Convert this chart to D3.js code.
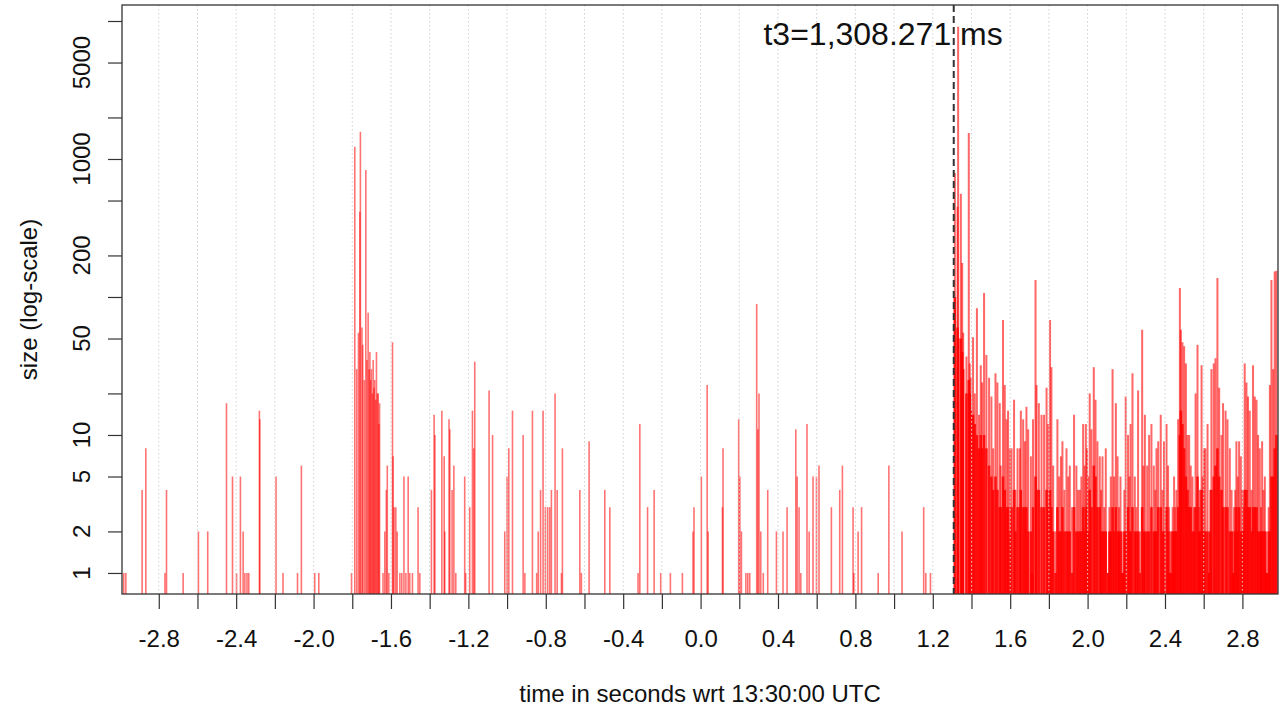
<!DOCTYPE html>
<html lang="en">
<head>
  <meta charset="utf-8">
  <title>size vs time (log-scale)</title>
  <style>
    body { margin: 0; background: #fff; }
    svg { display: block; font-family: "Liberation Sans", Arial, Helvetica, sans-serif; }
    .grid line { stroke: #cfcfcf; stroke-dasharray: 1.5,2.5; stroke-width: 1; }
    .axis text { font-size: 24px; fill: #111; }
    .axis line { stroke: #333; stroke-width: 1.2; }
  </style>
  <script src="https://cdn.jsdelivr.net/npm/d3@7"></script>
</head>
<body>
<script>
  // sparse events before t3: time (s) and size
  let sparseT = [-2.981,-2.970,-2.886,-2.867,-2.768,-2.760,-2.674,-2.595,-2.547,-2.450,-2.419,-2.398,-2.378,-2.364,-2.355,-2.344,-2.335,
    -2.280,-2.278,-2.194,-2.158,-2.083,-2.063,-1.994,-1.973,-1.804,
    -1.787,-1.777,-1.768,-1.761,-1.758,-1.750,-1.746,-1.738,-1.730,-1.724,-1.718,-1.713,-1.709,-1.705,-1.701,-1.696,-1.692,-1.688,-1.684,-1.679,-1.675,-1.670,-1.666,-1.662,-1.659,
    -1.641,-1.632,-1.624,-1.619,-1.611,-1.592,-1.589,-1.584,-1.575,-1.568,-1.554,-1.544,-1.533,-1.523,-1.511,-1.503,-1.489,-1.460,-1.451,
    -1.391,-1.377,-1.373,-1.337,-1.325,-1.322,-1.300,-1.296,-1.284,-1.275,-1.265,-1.219,-1.214,-1.193,-1.179,-1.172,-1.167,
    -1.093,-1.075,-1.012,-1.000,-0.991,-0.972,-0.917,-0.908,-0.869,-0.847,-0.839,-0.827,-0.814,-0.802,-0.790,-0.779,-0.771,-0.752,-0.741,-0.719,-0.714,
    -0.624,-0.616,-0.576,-0.495,-0.469,-0.323,-0.314,-0.274,-0.240,-0.206,-0.156,-0.094,-0.039,-0.034,0.004,0.034,0.039,0.113,0.116,
    0.197,0.203,0.211,0.234,0.244,0.254,0.290,0.296,0.302,0.311,0.324,0.347,0.392,0.426,0.447,0.492,0.499,0.509,0.518,0.550,0.561,0.581,0.599,0.612,
    0.676,0.719,0.733,0.788,0.792,0.814,0.832,0.918,0.973,1.041,1.153,1.164,1.188]
  let sparseV = [1,1,4,8,1,4,1,2,2,17,5,1,5,2,1,1,1,
    15,13,5,1,1,6,1,1,1,
    1228,30,55,415,1578,60,45,25,833,35,77,30,40,25,30,20,35,22,25,18,40,20,20,12,17,
    1,2,4,6,1,47,7,3,3,2,1,1,5,1,5,1,1,3,1,
    4,14,10,15,7,2,13,11,4,6,1,5,1,3,15,8,34,
    21,10,2,5,8,15,10,1,15,1,2,4,15,3,3,3,4,20,4,1,8,
    4,1,9,4,3,1,12,3,4,1,1,1,2,3,5,23,2,3,8,
    13,5,2,1,1,1,89,11,20,2,1,4,2,2,3,11,5,3,1,12,2,5,5,6,
    3,4,6,3,1,2,3,1,6,2,3,1,1]

  // dense events after t3: time, peak size, solid base size
  let denseT = [1.314,1.328,1.331,1.345,1.352,1.357,1.374,1.386,1.391,1.396,1.408,1.417,1.428,1.439,1.448,1.455,1.465,1.477,1.491,1.503,
    1.512,1.524,1.534,1.546,1.551,1.563,1.572,1.581,1.589,1.598,1.607,1.620,1.627,1.638,1.650,1.655,1.667,1.676,1.684,1.693,
    1.707,1.713,1.718,1.731,1.736,1.748,1.762,1.775,1.788,1.796,1.806,1.813,1.822,1.834,1.844,1.853,1.862,1.870,1.880,1.891,
    1.900,1.908,1.920,1.930,1.942,1.951,1.960,1.968,1.977,1.985,1.991,1.997,2.004,2.011,2.020,2.032,2.041,2.051,2.063,2.070,
    2.077,2.086,2.094,2.106,2.113,2.120,2.129,2.137,2.146,2.155,2.162,2.170,2.177,2.184,2.190,2.197,2.209,2.216,2.222,2.232,
    2.244,2.252,2.261,2.270,2.282,2.289,2.296,2.308,2.318,2.330,2.342,2.350,2.356,2.365,2.378,2.387,2.395,2.408,2.416,2.420,
    2.427,2.434,2.440,2.447,2.453,2.459,2.468,2.477,2.482,2.490,2.499,2.508,2.516,2.525,2.533,2.542,2.550,2.558,2.568,2.575,
    2.580,2.589,2.595,2.602,2.609,2.620,2.628,2.634,2.640,2.652,2.661,2.671,2.680,2.692,2.700,2.713,2.723,2.735,2.744,2.750,
    2.757,2.763,2.769,2.776,2.783,2.792,2.800,2.806,2.812,2.821,2.829,2.838,2.847,2.855,2.864,2.873,2.881,2.890,2.896,2.902,
    2.909,2.916,2.923,2.930,2.936,2.942,2.950,2.959,2.967,2.976]
  let densePeak = [792,450,9100,560,176,55,37,1543,33,26,51,20,83,14,32,24,107,38,26,19,
    8,28,24,17,6,68,23,13,15,8,8,18,4,8,8,15,13,9,16,11,
    7,1,13,133,23,17,14,14,22,12,68,31,6,2,13,5,7,9,4,8,
    5,6,3,14,6,4,4,5,12,6,12,8,5,20,11,31,18,9,7,4,
    7,3,8,1,3,5,30,5,17,7,3,5,2,1,4,19,10,5,12,28,
    5,3,21,2,58,6,14,6,10,12,6,4,8,9,14,4,9,12,6,3,
    2,2,3,5,3,4,13,116,58,47,44,33,10,10,6,5,3,20,45,3,
    4,32,5,8,8,12,1,4,30,33,36,137,22,10,17,15,13,8,4,2,
    3,4,9,5,9,7,4,3,33,24,19,15,4,32,19,18,10,8,3,9,
    4,5,2,1,3,23,133,30,153,155]
  let denseLow = [100,60,50,50,40,30,20,25,20,15,14,12,10,8,10,8,10,8,6,5,
    4,5,4,3,3,5,4,3,3,2,3,4,2,3,3,4,3,3,3,2,
    2,1,3,5,4,4,3,3,4,3,4,3,2,1,3,2,2,3,2,2,
    2,2,1,3,2,2,2,2,3,2,3,2,2,4,3,6,5,3,3,2,
    2,2,2,1,2,2,3,2,3,2,2,2,1,1,2,2,3,2,2,3,
    2,2,2,1,3,2,2,2,2,3,2,2,2,3,3,2,2,3,2,1,
    1,1,2,2,2,2,3,10,15,12,8,5,4,3,3,2,2,3,5,2,
    2,4,2,2,2,2,1,2,4,5,6,8,5,4,3,3,3,2,2,1,
    1,2,3,2,3,2,2,2,4,4,3,3,2,3,3,3,2,2,2,2,
    2,2,1,1,2,2,5,5,8,10]

  let t3 = 1.308271
  let xTicks = [-2.8,-2.6,-2.4,-2.2,-2.0,-1.8,-1.6,-1.4,-1.2,-1.0,-0.8,-0.6,-0.4,-0.2,0.0,0.2,0.4,0.6,0.8,1.0,1.2,1.4,1.6,1.8,2.0,2.2,2.4,2.6,2.8]
  let xLabels = [-2.8,-2.4,-2.0,-1.6,-1.2,-0.8,-0.4,0.0,0.4,0.8,1.2,1.6,2.0,2.4,2.8]
  let yTicks = [1,2,5,10,20,50,100,200,500,1000,2000,5000,10000]
  let yLabels = [1,2,5,10,50,200,1000,5000]

  let width = 1282
  let height = 708
  let plotL = 122, plotR = 1278, plotT = 5, plotB = 594

  let svg = d3.select('body').append('svg')
              .attr('width', width)
              .attr('height', height)

  let xScale = d3.scaleLinear().domain([-2.99, 2.984]).range([plotL, plotR])
  let yScale = d3.scaleLog().domain([0.704, 13060]).range([plotB, plotT])

  let drawBars = (times, values, color, w) => {
    svg.append('g')
       .selectAll('line')
       .data(times)
       .enter()
       .append('line')
       .attr('x1', (d) => xScale(d))
       .attr('x2', (d) => xScale(d))
       .attr('y1', plotB)
       .attr('y2', (d, i) => yScale(values[i]))
       .attr('stroke', color)
       .attr('stroke-width', w)
  }

  drawBars(sparseT, sparseV, 'rgba(255,0,0,0.55)', 1.6)
  drawBars(denseT, densePeak, 'rgba(255,0,0,0.6)', 2)
  drawBars(denseT, denseLow, 'rgba(255,0,0,0.85)', 2.6)

  // dotted grid on top of the bars
  svg.append('g')
     .attr('class', 'grid')
     .selectAll('line')
     .data(xTicks)
     .enter()
     .append('line')
     .attr('x1', (d) => xScale(d))
     .attr('x2', (d) => xScale(d))
     .attr('y1', plotT)
     .attr('y2', plotB)

  // t3 marker
  svg.append('line')
     .attr('x1', xScale(t3)).attr('x2', xScale(t3))
     .attr('y1', plotT).attr('y2', plotB)
     .attr('stroke', '#333')
     .attr('stroke-width', 2)
     .attr('stroke-dasharray', '7,4')

  svg.append('text')
     .attr('x', xScale(t3) + 49)
     .attr('y', 45)
     .attr('text-anchor', 'end')
     .attr('font-size', 32)
     .attr('fill', '#111')
     .text('t3=1,308.271 ms')

  // axes
  let xAxis = d3.axisBottom(xScale)
                .tickValues(xTicks)
                .tickSize(15)
                .tickSizeOuter(0)
                .tickPadding(21)
                .tickFormat((d) => xLabels.some((v) => Math.abs(v - d) < 1e-9) ? d.toFixed(1) : '')
  svg.append('g')
     .attr('class', 'axis')
     .attr('transform', `translate(0, ${plotB})`)
     .call(xAxis)
     .call((g) => g.select('.domain').remove())

  let yAxis = d3.axisLeft(yScale)
                .tickValues(yTicks)
                .tickSize(14)
                .tickSizeOuter(0)
                .tickFormat('')
  svg.append('g')
     .attr('class', 'axis')
     .attr('transform', `translate(${plotL}, 0)`)
     .call(yAxis)
     .call((g) => g.select('.domain').remove())

  svg.append('g')
     .selectAll('text')
     .data(yLabels)
     .enter()
     .append('text')
     .attr('transform', (d) => `translate(90, ${yScale(d)}) rotate(-90)`)
     .attr('text-anchor', 'middle')
     .attr('font-size', 24)
     .attr('fill', '#111')
     .text((d) => d)

  // box
  svg.append('rect')
     .attr('x', plotL).attr('y', plotT)
     .attr('width', plotR - plotL).attr('height', plotB - plotT)
     .attr('fill', 'none')
     .attr('stroke', '#333')
     .attr('stroke-width', 1.3)

  svg.append('text')
     .attr('x', (plotL + plotR) / 2)
     .attr('y', 702)
     .attr('text-anchor', 'middle')
     .attr('font-size', 24)
     .attr('fill', '#111')
     .text('time in seconds wrt 13:30:00 UTC')

  svg.append('text')
     .attr('transform', `translate(37, ${(plotT + plotB) / 2}) rotate(-90)`)
     .attr('text-anchor', 'middle')
     .attr('font-size', 24)
     .attr('fill', '#111')
     .text('size (log-scale)')
</script>
</body>
</html>
